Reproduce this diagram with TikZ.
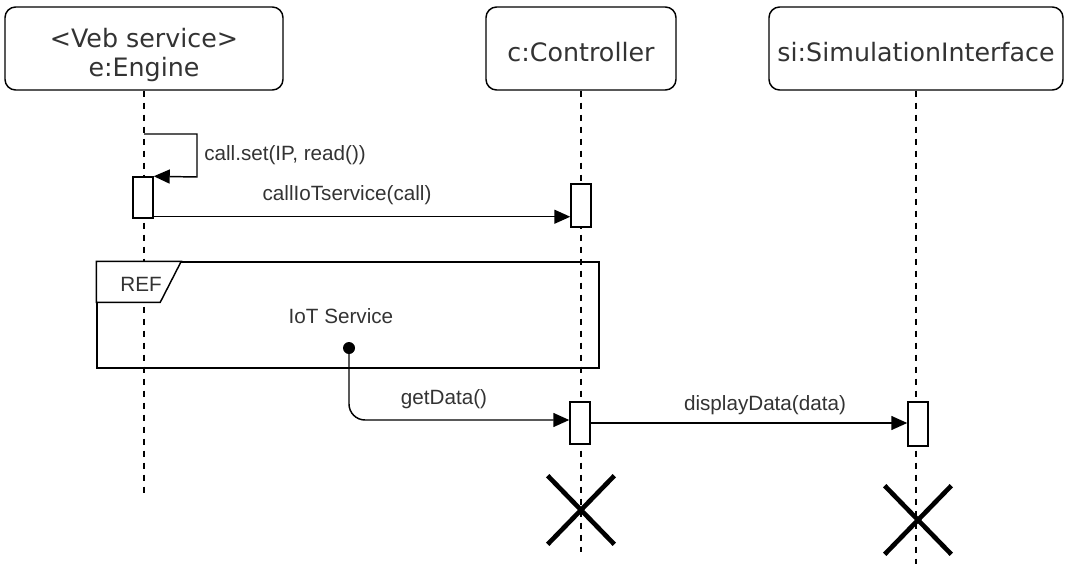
\documentclass[tikz,border=0pt]{standalone}
\usepackage{fontspec}
\setmainfont{Liberation Sans}
\newfontfamily\boxfont{DejaVu Sans}
\usetikzlibrary{arrows.meta,shapes.misc}

\tikzset{
	objbox/.style={draw, line width=1.1pt, rounded corners=8pt, fill=white, align=center,
		minimum height=83*0.75pt, inner sep=0pt, text=black!80, font=\boxfont\fontsize{19pt}{22pt}\selectfont},
	lifeline/.style={line width=1.1pt, dash pattern=on 4.5pt off 4.5pt},
	actbox/.style={draw, line width=1.1pt, fill=white, minimum width=20*0.75pt, inner sep=0pt},
	msg/.style={line width=1.1pt, -{Triangle[length=12pt,width=10.5pt]}},
	msglabel/.style={text=black!80, font=\fontsize{15.5pt}{18pt}\selectfont, inner sep=0pt},
	endmark/.style={cross out, draw, line width=3.5pt, inner sep=0pt, minimum width=62*0.75pt, minimum height=64*0.75pt}
}

\begin{document}
\begin{tikzpicture}[x=0.75pt, y=-0.75pt]
		\useasboundingbox (0,0) rectangle (1067,564);

		\begin{scope}
			\node[objbox, minimum width=278*0.75pt, text height=46pt, text depth=4pt] (eng) at (144,48.5) {<Veb service>\\e:Engine};
			\node[objbox, minimum width=190*0.75pt, text height=20pt, text depth=0pt] (ctrl) at (581,48.5) {c:Controller};
			\node[objbox, minimum width=294*0.75pt, text height=20pt, text depth=0pt] (simi) at (916,48.5) {si:SimulationInterface};
		\end{scope}

		\coordinate (engEnd) at (144,498);
		\coordinate (ctrlEnd) at (581,552);
		\coordinate (simiEnd) at (916,564);

		\begin{scope}
			\draw[lifeline] (eng.south)--(engEnd);
			\draw[lifeline] (ctrl.south)--(ctrlEnd);
			\draw[lifeline] (simi.south)--(simiEnd);
		\end{scope}

		% activations
		\node[actbox, minimum height=41*0.75pt] (actE) at (143,197.5) {};
		\node[actbox, minimum height=43*0.75pt] (actC1) at (581,205.5) {};
		\node[actbox, minimum height=42*0.75pt] (actC2) at (580,423) {};
		\node[actbox, minimum height=44*0.75pt] (actS) at (918,424) {};

		% ref frame
		\node[draw, line width=1.1pt, minimum width=502*0.75pt, minimum height=106*0.75pt, inner sep=0pt] (ref) at (348,315) {};
		\draw[line width=1.1pt, fill=white] (ref.north west) -- ++(0,41) -- ++(64,0) -- ++(21,-41) -- cycle;
		\node[msglabel] (refTag) at (141,284) {REF};
		\node[msglabel] (refName) at (341,316) {IoT Service};
		\coordinate (refOut) at (349,348);

		% end marks
		\node[endmark] (endC) at (581,510) {};
		\node[endmark] (endS) at (918,520) {};

		% messages
		\coordinate (selfS) at (144,134);
		\draw[msg] (selfS) -- (197,134) -- (197,177) -- (actE.north east);
		\node[msglabel, anchor=west] (lblSet) at (204,155) {call.set(IP, read())};

		\draw[msg] ([yshift=1.5pt]actE.south east) -- ([yshift=1.5pt]actE.south east -| actC1.west);
		\node[msglabel] (lblCall) at (347,195) {callIoTservice(call)};

		\fill (refOut) circle (4.5pt);
		\draw[msg, rounded corners=12pt] (refOut) |- ([yshift=2.25pt]actC2.west);
		\node[msglabel] (lblGet) at (444,399) {getData()};

		\draw[msg] (actC2.east) -- (actC2.east -| actS.west);
		\node[msglabel] (lblDisp) at (765,405) {displayData(data)};
\end{tikzpicture}
\end{document}
